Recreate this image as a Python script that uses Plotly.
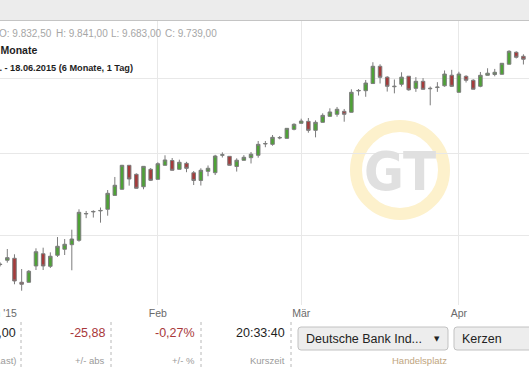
import plotly.graph_objects as go
import pandas as pd

W, H = 529, 368

# ---- data: DAX (Deutsche Bank Indikation), daily candles ----
holidays = ["2015-01-01", "2015-04-03", "2015-04-06"]
bdays = [d.strftime("%Y-%m-%d") for d in pd.bdate_range("2015-01-02", "2015-04-16")]
dates = ["2014-12-30"] + [d for d in bdays if d not in holidays]

open_ = [9680, 9724, 9746, 9480, 9480, 9660, 9797, 9656, 9780, 9848, 9900, 9950, 10258, 10282, 10294,
         10313, 10480, 10554, 10850, 10738, 10585, 10800, 10676, 10850, 10910, 10800, 10875, 10757, 10662,
         10775, 10758, 10977, 10963, 10835, 10913, 10946, 10976, 11121, 11116, 11198, 11193, 11310, 11389,
         11415, 11297, 11402, 11481, 11508, 11548, 11535, 11823, 11826, 11924, 12164, 12012, 11880, 11913,
         12025, 11858, 11955, 11852, 11869, 11893, 12039, 11804, 12024, 11969, 11886, 12038, 12049, 12052,
         12193, 12362, 12305]
high = [9700, 9851, 9791, 9626, 9615, 9859, 9866, 9813, 9988, 9965, 10073, 10313, 10293, 10301, 10334,
        10545, 10705, 10855, 10854, 10750, 10841, 10816, 10888, 10976, 10942, 10921, 10894, 10779, 10813,
        10848, 10982, 11014, 10967, 10938, 10978, 11018, 11159, 11159, 11236, 11223, 11327, 11389, 11450,
        11459, 11428, 11521, 11588, 11606, 11579, 11845, 11849, 11973, 12221, 12192, 12025, 11980, 12080,
        12028, 12012, 11999, 11883, 11943, 12105, 12114, 12087, 12039, 11984, 12084, 12136, 12127, 12208,
        12392, 12377, 12333]
low = [9655, 9697, 9458, 9388, 9478, 9615, 9615, 9637, 9761, 9783, 9612, 9934, 10208, 10215, 10155,
       10237, 10478, 10550, 10598, 10563, 10554, 10655, 10673, 10847, 10785, 10797, 10764, 10606, 10600,
       10714, 10729, 10948, 10847, 10772, 10910, 10873, 10946, 11079, 11098, 11181, 11190, 11297, 11386,
       11266, 11206, 11399, 11478, 11476, 11410, 11532, 11760, 11743, 11922, 11924, 11814, 11790, 11883,
       11826, 11810, 11842, 11628, 11810, 11880, 11876, 11801, 11938, 11845, 11873, 12035, 12024, 12049,
       12189, 12274, 12189]
close = [9676, 9753, 9494, 9458, 9601, 9820, 9660, 9769, 9882, 9905, 9965, 10277, 10263, 10287, 10299,
         10505, 10603, 10850, 10680, 10566, 10837, 10664, 10870, 10917, 10788, 10888, 10812, 10662, 10788,
         10813, 10967, 10983, 10850, 10914, 10951, 10990, 11116, 11126, 11206, 11203, 11323, 11376, 11419,
         11297, 11402, 11494, 11539, 11575, 11508, 11804, 11829, 11931, 12164, 12010, 11886, 11886, 12012,
         11838, 11955, 11845, 11858, 11875, 12055, 11886, 12056, 11969, 11846, 12038, 12067, 12080, 12206,
         12376, 12291, 12263]

tick_dates = ["2014-12-30", "2015-02-02", "2015-03-02", "2015-04-01"]
tick_text = ["Jan '15", "Feb", "Mär", "Apr"]
y_grid = [10000, 11000, 12000]

header_ohlc = ["O: 9.832,50", "H: 9.841,00", "L: 9.683,00", "C: 9.739,00"]
line2 = "Zeitraum: 6 Monate"
line3 = "Zeitraum: 18.12. - 18.06.2015 (6 Monate, 1 Tag)"
quote_values = ["9.739,00", "-25,88", "-0,27%", "20:33:40"]
quote_labels = ["Kurs (Last)", "+/- abs", "+/- %", "Kurszeit"]
quote_colors = ["#1e1e1e", "#a8383a", "#a8383a", "#1e1e1e"]

FONT = "Liberation Sans, Arial, sans-serif"
GREEN, RED, EDGE = "#4ea236", "#a53a3a", "#7c7c7c"


def px(x):
    return x / W


def py(y):
    return 1 - y / H


fig = go.Figure()
fig.add_trace(go.Candlestick(
    x=dates, open=open_, high=high, low=low, close=close,
    increasing=dict(line=dict(color=EDGE, width=1), fillcolor=GREEN),
    decreasing=dict(line=dict(color=EDGE, width=1), fillcolor=RED),
    whiskerwidth=0, hoverinfo="skip", showlegend=False,
))

tick_idx = [dates.index(d) for d in tick_dates]
xr = [-0.02, 73.78]
ylog_top = 4.10777
ylog_bot = 3.96541

shapes = []
annotations = []

# header band
shapes.append(dict(type="rect", xref="paper", yref="paper", x0=0, x1=1, y0=py(20), y1=1,
                   fillcolor="#ececec", line=dict(width=0), layer="below"))
shapes.append(dict(type="line", xref="paper", yref="paper", x0=0, x1=1, y0=py(20.5), y1=py(20.5),
                   line=dict(color="#c4c4c4", width=1)))

# watermark ring
shapes.append(dict(type="circle", xref="paper", yref="paper", x0=px(356), x1=px(444), y0=py(214), y1=py(126),
                   line=dict(color="#fdf1cc", width=12), layer="below"))
annotations.append(dict(text="<b>GT</b>", xref="paper", yref="paper", x=px(400), y=py(171),
                        xanchor="center", yanchor="middle", showarrow=False,
                        font=dict(family="Liberation Sans Narrow, DejaVu Sans Condensed, Liberation Sans",
                                  size=54, color="#e0e0e0")))

# header texts
for txt, x0 in zip(header_ohlc, [-3, 54, 109, 163]):
    annotations.append(dict(text=txt, xref="paper", yref="paper", x=px(x0), y=py(33),
                            xanchor="left", yanchor="middle", showarrow=False,
                            font=dict(family=FONT, size=10, color="#a6a6a6")))
annotations.append(dict(text="<b>" + line2 + "</b>", xref="paper", yref="paper", x=px(39), y=py(50),
                        xanchor="right", yanchor="middle", showarrow=False,
                        font=dict(family=FONT, size=10.5, color="#1e1e1e")))
annotations.append(dict(text="<b>" + line3 + "</b>", xref="paper", yref="paper", x=px(135), y=py(68),
                        xanchor="right", yanchor="middle", showarrow=False,
                        font=dict(family=FONT, size=9.2, color="#1e1e1e")))

# bottom panel
for xs in [21, 111, 201, 291]:
    shapes.append(dict(type="line", xref="paper", yref="paper", x0=px(xs), x1=px(xs), y0=py(322), y1=0,
                       line=dict(color="#b8b8b8", width=1, dash="3px,3px")))
for v, lab, col, xr_ in zip(quote_values, quote_labels, quote_colors, [18, 107, 197, 287]):
    annotations.append(dict(text=v, xref="paper", yref="paper", x=px(xr_), y=py(333),
                            xanchor="right", yanchor="middle", showarrow=False,
                            font=dict(family=FONT, size=12.5, color=col)))
    annotations.append(dict(text=lab, xref="paper", yref="paper", x=px(xr_), y=py(360),
                            xanchor="right", yanchor="middle", showarrow=False,
                            font=dict(family=FONT, size=9.5, color="#9a9a9a")))


def rrect(x0, y0, x1, y1, r):
    P = lambda x, y: f"{px(x):.5f},{py(y):.5f}"
    return (f"M{P(x0 + r, y0)} L{P(x1 - r, y0)} Q{P(x1, y0)} {P(x1, y0 + r)} L{P(x1, y1 - r)} "
            f"Q{P(x1, y1)} {P(x1 - r, y1)} L{P(x0 + r, y1)} Q{P(x0, y1)} {P(x0, y1 - r)} "
            f"L{P(x0, y0 + r)} Q{P(x0, y0)} {P(x0 + r, y0)} Z")


for (a, b) in [(298, 448), (454, 560)]:
    shapes.append(dict(type="path", xref="paper", yref="paper", path=rrect(a, 327, b, 350, 3),
                       fillcolor="#ededed", line=dict(color="#c2c2c2", width=1)))
annotations.append(dict(text="Deutsche Bank Ind...", xref="paper", yref="paper", x=px(304), y=py(338.5),
                        xanchor="left", yanchor="middle", showarrow=False,
                        font=dict(family=FONT, size=12.5, color="#222222")))
annotations.append(dict(text="▼", xref="paper", yref="paper", x=px(437), y=py(338.5),
                        xanchor="center", yanchor="middle", showarrow=False,
                        font=dict(family="DejaVu Sans", size=7, color="#222222")))
annotations.append(dict(text="Kerzen", xref="paper", yref="paper", x=px(460), y=py(338.5),
                        xanchor="left", yanchor="middle", showarrow=False,
                        font=dict(family=FONT, size=12.5, color="#222222")))
annotations.append(dict(text="Handelsplatz", xref="paper", yref="paper", x=px(449), y=py(360.5),
                        xanchor="right", yanchor="middle", showarrow=False,
                        font=dict(family=FONT, size=9.5, color="#c0a57e")))

fig.update_layout(
    width=W, height=H, margin=dict(l=0, r=0, t=0, b=0, pad=0, autoexpand=False),
    paper_bgcolor="white", plot_bgcolor="white",
    boxgap=0.3,
    xaxis=dict(type="category", range=xr, autorange=False, domain=[0, 1], automargin=False,
               rangeslider=dict(visible=False),
               tickmode="array", tickvals=tick_dates, ticktext=tick_text,
               showgrid=True, gridcolor="#e8e8e8", gridwidth=1, showline=False, ticks="",
               tickfont=dict(family=FONT, size=10.5, color="#6a6a6a"), fixedrange=True),
    xaxis2=dict(overlaying="x", anchor="free", position=py(321), side="bottom", range=xr,
                autorange=False, automargin=False,
                tickmode="array", tickvals=tick_idx, showticklabels=False, showgrid=False,
                zeroline=False, showline=True, linecolor="#c6c6c6", linewidth=1,
                ticks="inside", ticklen=4, tickcolor="#444444", tickwidth=1, fixedrange=True),
    yaxis=dict(type="log", range=[ylog_bot, ylog_top], autorange=False, domain=[py(305), py(21)],
               automargin=False,
               tickmode="array", tickvals=y_grid, showticklabels=False,
               showgrid=True, gridcolor="#e8e8e8", gridwidth=1, zeroline=False, showline=False,
               fixedrange=True),
    shapes=shapes, annotations=annotations, showlegend=False,
)

fig.write_html("out.html", config={"displayModeBar": False, "staticPlot": True})
